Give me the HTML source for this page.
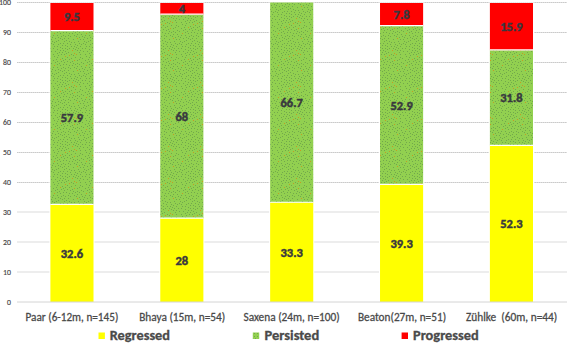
<!DOCTYPE html>
<html><head><meta charset="utf-8"><title>Chart</title>
<style>
html,body{margin:0;padding:0;background:#fff;}
body{width:567px;height:343px;overflow:hidden;}
svg{display:block;}
text{font-family:Carlito,"Liberation Sans",sans-serif;}
.ax{font-size:8.5px;fill:#454545;stroke:#454545;stroke-width:0.15px;}
.cat{font-size:12.3px;fill:#484848;stroke:#484848;stroke-width:0.28px;}
.dl{font-size:12.4px;font-weight:bold;fill:#38383f;stroke:#38383f;stroke-width:0.45px;}
.lg{font-size:13.5px;font-weight:bold;fill:#4a4a4a;stroke:#4a4a4a;stroke-width:0.3px;}
</style></head><body>
<svg width="567" height="343" viewBox="0 0 567 343">
<defs>
<pattern id="gp" width="32" height="32" patternUnits="userSpaceOnUse">
<rect width="32" height="32" fill="#92d050"/>
<path d="M20 9h1v1h-1zM25 3h1v1h-1zM4 6h1v1h-1zM13 2h1v1h-1zM5 27h1v1h-1zM15 5h1v1h-1zM7 14h1v1h-1zM3 25h1v1h-1zM3 14h1v1h-1zM2 8h1v1h-1zM18 26h1v1h-1zM9 7h1v1h-1zM19 11h1v1h-1zM6 12h1v1h-1zM23 6h1v1h-1zM4 3h1v1h-1zM13 31h1v1h-1zM27 20h1v1h-1zM29 29h1v1h-1zM23 19h1v1h-1zM15 11h1v1h-1zM19 31h1v1h-1zM21 28h1v1h-1zM18 4h1v1h-1zM7 26h1v1h-1zM9 31h1v1h-1zM4 20h1v1h-1zM21 22h1v1h-1zM17 30h1v1h-1zM29 22h1v1h-1zM31 3h1v1h-1zM13 18h1v1h-1zM25 25h1v1h-1zM25 17h1v1h-1zM22 24h1v1h-1zM14 9h1v1h-1zM31 11h1v1h-1zM16 18h1v1h-1zM0 9h1v1h-1zM26 23h1v1h-1zM3 29h1v1h-1zM6 30h1v1h-1zM12 4h1v1h-1zM13 28h1v1h-1zM21 3h1v1h-1zM24 9h1v1h-1zM16 22h1v1h-1zM23 30h1v1h-1zM21 16h1v1h-1zM1 13h1v1h-1zM1 19h1v1h-1zM5 16h1v1h-1zM22 14h1v1h-1zM12 15h1v1h-1zM25 14h1v1h-1zM30 16h1v1h-1zM0 30h1v1h-1zM25 29h1v1h-1zM10 10h1v1h-1zM8 1h1v1h-1zM0 6h1v1h-1zM1 16h1v1h-1zM15 20h1v1h-1zM26 8h1v1h-1zM28 11h1v1h-1zM30 7h1v1h-1zM28 1h1v1h-1zM15 27h1v1h-1zM19 7h1v1h-1zM9 23h1v1h-1zM9 16h1v1h-1zM8 29h1v1h-1zM10 14h1v1h-1zM25 21h1v1h-1zM26 12h1v1h-1zM17 2h1v1h-1zM11 17h1v1h-1zM16 25h1v1h-1zM20 5h1v1h-1zM16 7h1v1h-1zM7 10h1v1h-1zM11 12h1v1h-1zM19 19h1v1h-1zM2 0h1v1h-1zM28 6h1v1h-1zM27 31h1v1h-1zM21 12h1v1h-1zM11 0h1v1h-1zM17 12h1v1h-1zM15 0h1v1h-1zM5 9h1v1h-1zM5 1h1v1h-1zM29 4h1v1h-1zM31 18h1v1h-1zM13 13h1v1h-1zM31 28h1v1h-1zM18 16h1v1h-1zM3 17h1v1h-1zM30 26h1v1h-1zM31 0h1v1h-1zM6 4h1v1h-1zM26 5h1v1h-1zM16 14h1v1h-1zM2 21h1v1h-1zM14 16h1v1h-1zM3 11h1v1h-1zM30 20h1v1h-1zM28 15h1v1h-1zM1 4h1v1h-1zM30 13h1v1h-1zM11 25h1v1h-1zM0 22h1v1h-1zM10 3h1v1h-1zM24 27h1v1h-1zM1 27h1v1h-1zM22 10h1v1h-1zM25 0h1v1h-1zM7 22h1v1h-1zM28 18h1v1h-1z" fill="#72a84b"/>
<path d="M10 21h1v1h-1zM22 1h1v1h-1zM10 28h1v1h-1zM12 22h1v1h-1zM5 23h1v1h-1zM1 24h1v1h-1zM8 18h1v1h-1zM28 27h1v1h-1zM13 6h1v1h-1z" fill="#c69a22"/>
</pattern>
</defs>
<rect width="567" height="343" fill="#fff"/>

<line x1="17.0" x2="567" y1="2.5" y2="2.5" stroke="#dedede" stroke-width="1"/>
<line x1="17.0" x2="567" y1="2.5" y2="2.5" stroke="#cacaca" stroke-width="1" stroke-dasharray="1 1"/>
<text class="ax" x="-0.90" y="5.00" textLength="11.9" lengthAdjust="spacingAndGlyphs">100</text>
<line x1="17.0" x2="567" y1="32.5" y2="32.5" stroke="#dedede" stroke-width="1"/>
<line x1="17.0" x2="567" y1="32.5" y2="32.5" stroke="#cacaca" stroke-width="1" stroke-dasharray="1 1"/>
<text class="ax" x="3.10" y="34.95" textLength="7.9" lengthAdjust="spacingAndGlyphs">90</text>
<line x1="17.0" x2="567" y1="62.5" y2="62.5" stroke="#dedede" stroke-width="1"/>
<line x1="17.0" x2="567" y1="62.5" y2="62.5" stroke="#cacaca" stroke-width="1" stroke-dasharray="1 1"/>
<text class="ax" x="3.10" y="64.90" textLength="7.9" lengthAdjust="spacingAndGlyphs">80</text>
<line x1="17.0" x2="567" y1="92.5" y2="92.5" stroke="#dedede" stroke-width="1"/>
<line x1="17.0" x2="567" y1="92.5" y2="92.5" stroke="#cacaca" stroke-width="1" stroke-dasharray="1 1"/>
<text class="ax" x="3.10" y="94.85" textLength="7.9" lengthAdjust="spacingAndGlyphs">70</text>
<line x1="17.0" x2="567" y1="122.5" y2="122.5" stroke="#dedede" stroke-width="1"/>
<line x1="17.0" x2="567" y1="122.5" y2="122.5" stroke="#cacaca" stroke-width="1" stroke-dasharray="1 1"/>
<text class="ax" x="3.10" y="124.80" textLength="7.9" lengthAdjust="spacingAndGlyphs">60</text>
<line x1="17.0" x2="567" y1="152.5" y2="152.5" stroke="#dedede" stroke-width="1"/>
<line x1="17.0" x2="567" y1="152.5" y2="152.5" stroke="#cacaca" stroke-width="1" stroke-dasharray="1 1"/>
<text class="ax" x="3.10" y="154.75" textLength="7.9" lengthAdjust="spacingAndGlyphs">50</text>
<line x1="17.0" x2="567" y1="182.5" y2="182.5" stroke="#dedede" stroke-width="1"/>
<line x1="17.0" x2="567" y1="182.5" y2="182.5" stroke="#cacaca" stroke-width="1" stroke-dasharray="1 1"/>
<text class="ax" x="3.10" y="184.70" textLength="7.9" lengthAdjust="spacingAndGlyphs">40</text>
<line x1="17.0" x2="567" y1="212.0" y2="212.0" stroke="#dbdbdb" stroke-width="1"/>
<text class="ax" x="3.10" y="214.65" textLength="7.9" lengthAdjust="spacingAndGlyphs">30</text>
<line x1="17.0" x2="567" y1="242.0" y2="242.0" stroke="#dbdbdb" stroke-width="1"/>
<text class="ax" x="3.10" y="244.60" textLength="7.9" lengthAdjust="spacingAndGlyphs">20</text>
<line x1="17.0" x2="567" y1="272.0" y2="272.0" stroke="#dbdbdb" stroke-width="1"/>
<text class="ax" x="3.10" y="274.55" textLength="7.9" lengthAdjust="spacingAndGlyphs">10</text>
<text class="ax" x="7.10" y="304.50" textLength="3.9" lengthAdjust="spacingAndGlyphs">0</text>
<rect x="49.40" y="2.50" width="45.1" height="299.50" fill="#fff"/>
<rect x="50.40" y="204.36" width="43.1" height="97.64" fill="#ffff00"/>
<rect x="50.40" y="30.95" width="43.1" height="173.41" fill="url(#gp)"/>
<rect x="50.40" y="3.00" width="43.1" height="27.95" fill="#ff0000"/>
<line x1="50.40" x2="93.50" y1="204.36" y2="204.36" stroke="#fff" stroke-width="1.2"/>
<line x1="50.40" x2="93.50" y1="30.65" y2="30.65" stroke="#fff" stroke-width="1.25"/>
<text class="dl" x="60.80" y="257.78" textLength="22.3" lengthAdjust="spacingAndGlyphs">32.6</text>
<text class="dl" x="60.80" y="122.26" textLength="22.3" lengthAdjust="spacingAndGlyphs">57.9</text>
<text class="dl" x="63.95" y="21.33" textLength="16.0" lengthAdjust="spacingAndGlyphs">9.5</text>
<text class="cat" x="25.50" y="320.7" textLength="92.8" lengthAdjust="spacingAndGlyphs" xml:space="preserve">Paar (6-12m, n=145)</text>
<rect x="159.28" y="2.50" width="45.1" height="299.50" fill="#fff"/>
<rect x="160.28" y="218.14" width="43.1" height="83.86" fill="#ffff00"/>
<rect x="160.28" y="14.48" width="43.1" height="203.66" fill="url(#gp)"/>
<rect x="160.28" y="3.00" width="43.1" height="11.48" fill="#ff0000"/>
<line x1="160.28" x2="203.38" y1="218.14" y2="218.14" stroke="#fff" stroke-width="1.2"/>
<line x1="160.28" x2="203.38" y1="14.18" y2="14.18" stroke="#fff" stroke-width="1.25"/>
<text class="dl" x="175.48" y="264.67" textLength="12.7" lengthAdjust="spacingAndGlyphs">28</text>
<text class="dl" x="175.48" y="120.91" textLength="12.7" lengthAdjust="spacingAndGlyphs">68</text>
<text class="dl" x="178.68" y="13.09" textLength="6.3" lengthAdjust="spacingAndGlyphs">4</text>
<text class="cat" x="139.15" y="320.7" textLength="86.1" lengthAdjust="spacingAndGlyphs" xml:space="preserve">Bhaya (15m, n=54)</text>
<rect x="269.15" y="2.50" width="45.1" height="299.50" fill="#fff"/>
<rect x="270.15" y="202.27" width="43.1" height="99.73" fill="#ffff00"/>
<rect x="270.15" y="2.50" width="43.1" height="199.77" fill="url(#gp)"/>
<line x1="270.15" x2="313.25" y1="202.27" y2="202.27" stroke="#fff" stroke-width="1.2"/>
<text class="dl" x="280.55" y="256.73" textLength="22.3" lengthAdjust="spacingAndGlyphs">33.3</text>
<text class="dl" x="280.55" y="106.98" textLength="22.3" lengthAdjust="spacingAndGlyphs">66.7</text>
<text class="cat" x="243.45" y="320.7" textLength="96.3" lengthAdjust="spacingAndGlyphs" xml:space="preserve">Saxena (24m, n=100)</text>
<rect x="379.02" y="2.50" width="45.1" height="299.50" fill="#fff"/>
<rect x="380.02" y="184.30" width="43.1" height="117.70" fill="#ffff00"/>
<rect x="380.02" y="25.86" width="43.1" height="158.44" fill="url(#gp)"/>
<rect x="380.02" y="3.00" width="43.1" height="22.86" fill="#ff0000"/>
<line x1="380.02" x2="423.12" y1="184.30" y2="184.30" stroke="#fff" stroke-width="1.2"/>
<line x1="380.02" x2="423.12" y1="25.56" y2="25.56" stroke="#fff" stroke-width="1.25"/>
<text class="dl" x="390.43" y="247.75" textLength="22.3" lengthAdjust="spacingAndGlyphs">39.3</text>
<text class="dl" x="390.43" y="109.68" textLength="22.3" lengthAdjust="spacingAndGlyphs">52.9</text>
<text class="dl" x="393.57" y="18.78" textLength="16.0" lengthAdjust="spacingAndGlyphs">7.8</text>
<text class="cat" x="357.90" y="320.7" textLength="88.2" lengthAdjust="spacingAndGlyphs" xml:space="preserve">Beaton(27m, n=51)</text>
<rect x="488.90" y="2.50" width="45.1" height="299.50" fill="#fff"/>
<rect x="489.90" y="145.36" width="43.1" height="156.64" fill="#ffff00"/>
<rect x="489.90" y="50.12" width="43.1" height="95.24" fill="url(#gp)"/>
<rect x="489.90" y="3.00" width="43.1" height="47.12" fill="#ff0000"/>
<line x1="489.90" x2="533.00" y1="145.36" y2="145.36" stroke="#fff" stroke-width="1.2"/>
<line x1="489.90" x2="533.00" y1="49.82" y2="49.82" stroke="#fff" stroke-width="1.25"/>
<text class="dl" x="500.30" y="228.28" textLength="22.3" lengthAdjust="spacingAndGlyphs">52.3</text>
<text class="dl" x="500.30" y="102.34" textLength="22.3" lengthAdjust="spacingAndGlyphs">31.8</text>
<text class="dl" x="500.30" y="30.91" textLength="22.3" lengthAdjust="spacingAndGlyphs">15.9</text>
<text class="cat" x="465.90" y="320.7" textLength="91.4" lengthAdjust="spacingAndGlyphs" xml:space="preserve">Zühlke  (60m, n=44)</text>
<line x1="17.0" x2="567" y1="302.0" y2="302.0" stroke="#d4d4d4" stroke-width="1"/>
<rect x="98.5" y="332.5" width="6.4" height="6.5" fill="#ffff00"/>
<text class="lg" x="109.7" y="340" textLength="60.3" lengthAdjust="spacingAndGlyphs">Regressed</text>
<rect x="252.8" y="332.5" width="6.4" height="6.5" fill="url(#gp)"/>
<text class="lg" x="264.5" y="340" textLength="54.7" lengthAdjust="spacingAndGlyphs">Persisted</text>
<rect x="401.6" y="332.5" width="6.4" height="6.5" fill="#ff0000"/>
<text class="lg" x="413" y="340" textLength="65.8" lengthAdjust="spacingAndGlyphs">Progressed</text>
</svg></body></html>
